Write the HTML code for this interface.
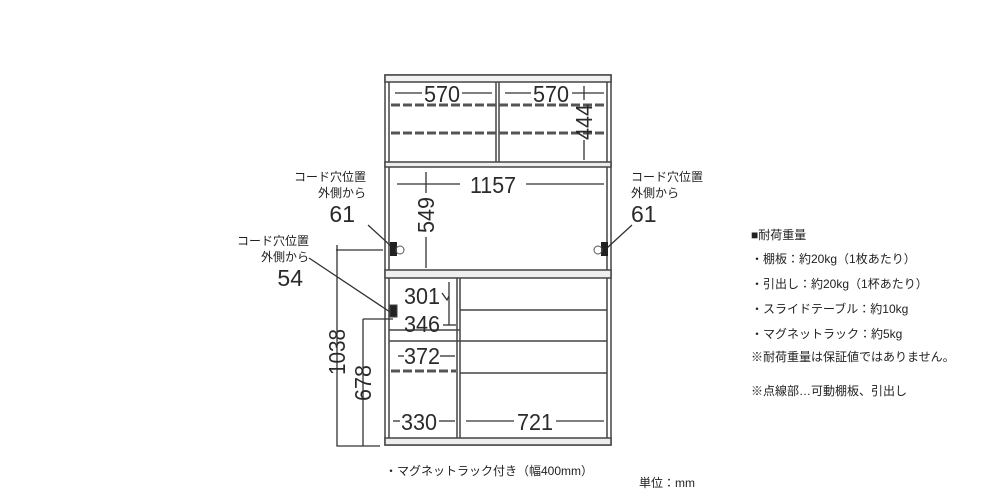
<!DOCTYPE html>
<html><head><meta charset="utf-8"><style>
html,body{margin:0;padding:0;background:#fff;width:1000px;height:500px;overflow:hidden}
svg{display:block}
.d{font-family:"Liberation Sans","Noto Sans CJK JP",sans-serif;font-size:23px;fill:#2a2a2a}
.j{font-family:"Liberation Sans","Noto Sans CJK JP",sans-serif;font-size:12px;fill:#222}
</style></head><body>
<svg width="1000" height="500" viewBox="0 0 1000 500">
<g stroke="#444" fill="none" stroke-width="1.5">
<rect x="385" y="75" width="226" height="370"/>
<rect x="385" y="75" width="226" height="7" fill="#f2f2f2"/>
<line x1="389" y1="82" x2="389" y2="445"/>
<line x1="607" y1="82" x2="607" y2="445"/>
<rect x="385" y="162" width="226" height="5" fill="#eee"/>
<line x1="496" y1="82" x2="496" y2="162"/><line x1="499" y1="82" x2="499" y2="162"/>
<rect x="385" y="270" width="226" height="8" fill="#eee"/>
<line x1="457" y1="278" x2="457" y2="438"/><line x1="460" y1="278" x2="460" y2="438"/>
<line x1="389" y1="330" x2="460" y2="330"/><line x1="389" y1="341" x2="460" y2="341"/>
<line x1="460" y1="310" x2="607" y2="310"/>
<line x1="460" y1="341" x2="607" y2="341"/>
<line x1="460" y1="373" x2="607" y2="373"/>
<rect x="385" y="438" width="226" height="7" fill="#eee"/>
</g>
<g stroke="#555" stroke-width="3" stroke-dasharray="9,3">
<line x1="391" y1="105" x2="605" y2="105"/>
<line x1="391" y1="133" x2="605" y2="133"/>
<line x1="391" y1="371" x2="456" y2="371"/>
</g>
<g stroke="#333" stroke-width="1.3" fill="none">
<line x1="395" y1="93" x2="422" y2="93"/><line x1="462" y1="93" x2="492" y2="93"/>
<line x1="505" y1="93" x2="531" y2="93"/><line x1="572" y1="93" x2="604" y2="93"/>
<line x1="584" y1="86" x2="584" y2="100"/><line x1="584" y1="140" x2="584" y2="160"/>
<line x1="397" y1="184" x2="460" y2="184"/><line x1="526" y1="184" x2="604" y2="184"/>
<line x1="426" y1="172" x2="426" y2="193"/><line x1="426" y1="237" x2="426" y2="268"/>
<line x1="449" y1="282" x2="449" y2="325"/><polyline points="442,293 447,300 449,296"/>
<line x1="443" y1="325" x2="456" y2="325"/>
<line x1="398" y1="356" x2="404" y2="356"/><line x1="440" y1="356" x2="455" y2="356"/>
<line x1="393" y1="421" x2="400" y2="421"/><line x1="439" y1="421" x2="455" y2="421"/>
<line x1="466" y1="421" x2="514" y2="421"/><line x1="556" y1="421" x2="604" y2="421"/>
<polyline points="337,245 337,446 380,446"/>
<polyline points="336,250 383,250"/>
<polyline points="363,319 363,446"/>
<polyline points="363,319 393,319"/>
<line x1="368" y1="225" x2="392" y2="247"/>
<line x1="632" y1="225" x2="607" y2="248"/>
<line x1="309" y1="258" x2="390" y2="312"/>
</g>
<rect x="390" y="242" width="7" height="14" fill="#222"/>
<rect x="601" y="242" width="7" height="14" fill="#222"/>
<circle cx="400" cy="250" r="4" fill="none" stroke="#555"/>
<circle cx="598" cy="250" r="4" fill="none" stroke="#555"/>
<rect x="390" y="305" width="7" height="12" fill="#222" stroke="#444"/>
<text class="d" x="442" y="102" text-anchor="middle" textLength="36" lengthAdjust="spacingAndGlyphs">570</text>
<text class="d" x="551" y="102" text-anchor="middle" textLength="36" lengthAdjust="spacingAndGlyphs">570</text>
<text class="d" transform="translate(592,122) rotate(-90)" text-anchor="middle" textLength="36" lengthAdjust="spacingAndGlyphs">444</text>
<text class="d" x="493" y="193" text-anchor="middle" textLength="46" lengthAdjust="spacingAndGlyphs">1157</text>
<text class="d" transform="translate(434,215) rotate(-90)" text-anchor="middle" textLength="36" lengthAdjust="spacingAndGlyphs">549</text>
<text class="d" x="422" y="304" text-anchor="middle" textLength="36" lengthAdjust="spacingAndGlyphs">301</text>
<text class="d" x="422" y="332" text-anchor="middle" textLength="36" lengthAdjust="spacingAndGlyphs">346</text>
<text class="d" x="422" y="364" text-anchor="middle" textLength="36" lengthAdjust="spacingAndGlyphs">372</text>
<text class="d" x="419" y="430" text-anchor="middle" textLength="36" lengthAdjust="spacingAndGlyphs">330</text>
<text class="d" x="535" y="430" text-anchor="middle" textLength="36" lengthAdjust="spacingAndGlyphs">721</text>
<text class="d" transform="translate(345,352) rotate(-90)" text-anchor="middle" textLength="46" lengthAdjust="spacingAndGlyphs">1038</text>
<text class="d" transform="translate(371,383) rotate(-90)" text-anchor="middle" textLength="36" lengthAdjust="spacingAndGlyphs">678</text>
<text class="d" x="355" y="222" text-anchor="end">61</text>
<text class="d" x="631" y="222">61</text>
<text class="d" x="303" y="286" text-anchor="end">54</text>
<text class="j" x="366" y="181" text-anchor="end">コード穴位置</text>
<text class="j" x="366" y="197" text-anchor="end">外側から</text>
<text class="j" x="631" y="181">コード穴位置</text>
<text class="j" x="631" y="197">外側から</text>
<text class="j" x="309" y="245" text-anchor="end">コード穴位置</text>
<text class="j" x="309" y="261" text-anchor="end">外側から</text>
<text class="j" x="385" y="475">・マグネットラック付き（幅400mm）</text>
<text class="j" x="639" y="487">単位：mm</text>
<text class="j" x="751" y="239">■耐荷重量</text>
<text class="j" x="751" y="263">・棚板：約20kg（1枚あたり）</text>
<text class="j" x="751" y="288">・引出し：約20kg（1杯あたり）</text>
<text class="j" x="751" y="313">・スライドテーブル：約10kg</text>
<text class="j" x="751" y="338">・マグネットラック：約5kg</text>
<text class="j" x="751" y="361">※耐荷重量は保証値ではありません。</text>
<text class="j" x="751" y="395">※点線部…可動棚板、引出し</text>
</svg>
</body></html>
